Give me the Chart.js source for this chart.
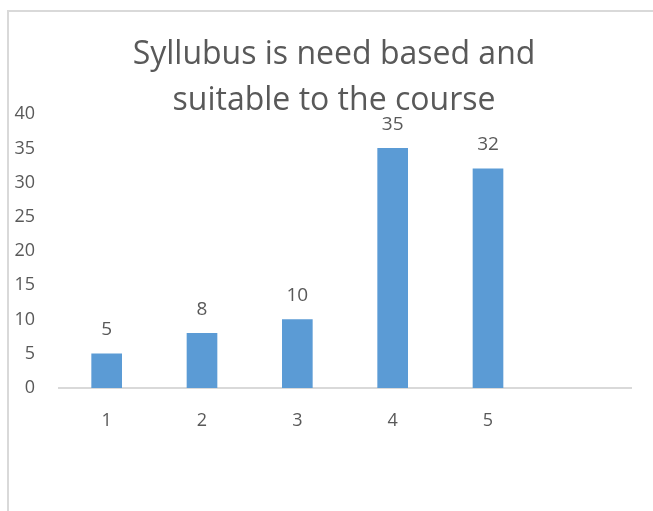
<!DOCTYPE html>
<html>
<head>
<meta charset="utf-8">
<script src="https://cdn.jsdelivr.net/npm/chart.js@4/dist/chart.umd.min.js"></script>
<style>
  html, body { margin: 0; padding: 0; background: #fff; }
  .wrap { position: relative; width: 653px; height: 511px; overflow: hidden; }
  .frame { position: absolute; left: 7px; top: 10px; width: 700px; height: 600px;
           border-left: 2px solid #d9d9d9; border-top: 2px solid #d9d9d9; }
  canvas { position: absolute; left: 0; top: 0; }
</style>
</head>
<body>
<div class="wrap">
  <div class="frame"></div>
  <canvas id="myChart" width="668" height="511"></canvas>
</div>
<script>
const categories = ['1', '2', '3', '4', '5', ''];
const values = [5, 8, 10, 35, 32, null];
const titleLines = ['Syllubus is need based and', 'suitable to the course'];

const textColor = '#595959';
const fontFamily = '"Open Sans", sans-serif';

// value labels above each bar
const valueLabels = {
  id: 'valueLabels',
  afterDatasetsDraw(chart) {
    const ctx = chart.ctx;
    const meta = chart.getDatasetMeta(0);
    ctx.save();
    ctx.fillStyle = textColor;
    ctx.font = '19px ' + fontFamily;
    ctx.textAlign = 'center';
    ctx.textBaseline = 'middle';
    meta.data.forEach((bar, i) => {
      if (values[i] === null) return;
      ctx.fillText(String(values[i]), bar.x, bar.y - 24);
    });
    ctx.restore();
  }
};

new Chart(document.getElementById('myChart'), {
  type: 'bar',
  data: {
    labels: categories,
    datasets: [{
      data: values,
      backgroundColor: '#5b9bd5',
      barThickness: 30
    }]
  },
  options: {
    responsive: false,
    animation: false,
    layout: { padding: 0 },
    plugins: {
      legend: { display: false },
      tooltip: { enabled: false },
      title: {
        display: true,
        text: titleLines,
        color: textColor,
        font: { size: 32, family: fontFamily, weight: 'normal', lineHeight: 1.44 },
        padding: { top: 32, bottom: -10 }
      }
    },
    scales: {
      x: {
        grid: { display: false, drawTicks: false },
        border: { color: '#d9d9d9', width: 2 },
        ticks: { color: textColor, font: { size: 18, family: fontFamily }, padding: 22 },
        afterFit(scale) { scale.height = 123; }
      },
      y: {
        min: 0,
        max: 40,
        grid: { display: false, drawTicks: false },
        border: { display: false },
        ticks: { stepSize: 5, color: textColor, font: { size: 18, family: fontFamily }, padding: 24 },
        afterFit(scale) { scale.width = 59; }
      },
      // empty spacer on the right so the title centres over the whole frame
      yRight: {
        position: 'right',
        grid: { display: false, drawTicks: false },
        border: { display: false },
        ticks: { display: false },
        afterFit(scale) { scale.width = 37; }
      }
    }
  },
  plugins: [valueLabels]
});
</script>
</body>
</html>
